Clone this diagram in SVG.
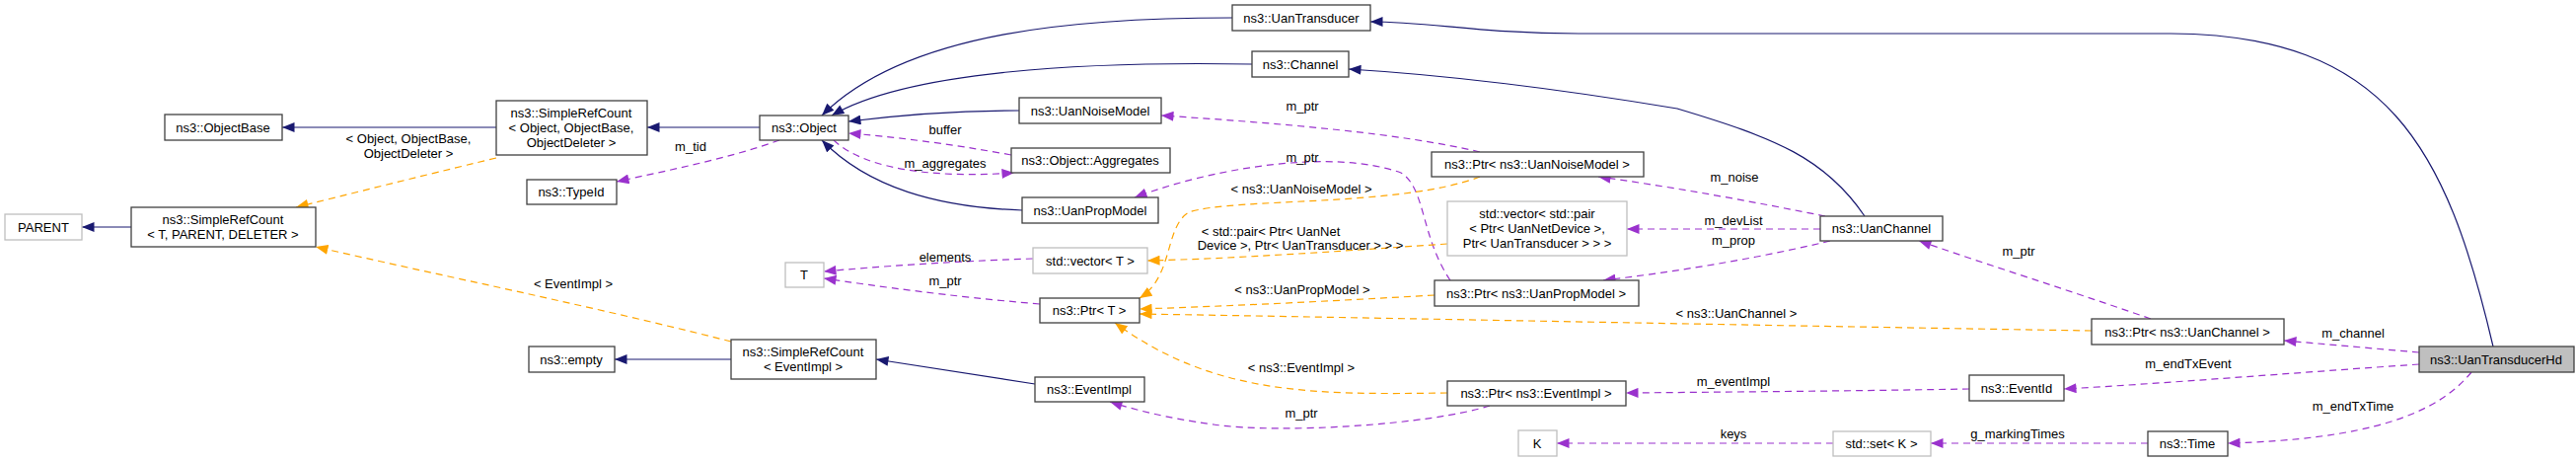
<svg xmlns="http://www.w3.org/2000/svg" width="2611" height="468" viewBox="0 0 2611 468">
<style>
text{font-family:"Liberation Sans",Arial,sans-serif;font-size:13px;fill:#000;text-anchor:middle}
.n rect{fill:#fff;stroke:#404040;stroke-width:1.3}
.u rect{fill:#fff;stroke:#bfbfbf;stroke-width:1.3}
.inh{fill:none;stroke:#191970;stroke-width:1.2;marker-end:url(#an)}
.use{fill:none;stroke:#9a32cd;stroke-width:1.2;stroke-dasharray:7,5;marker-end:url(#ap)}
.tpl{fill:none;stroke:#ffa500;stroke-width:1.2;stroke-dasharray:7,5;marker-end:url(#ao)}
</style>
<defs>
<marker id="an" viewBox="0 0 10 8" refX="10" refY="4" markerWidth="13" markerHeight="10" markerUnits="userSpaceOnUse" orient="auto"><path d="M0,0L10,4L0,8z" fill="#191970"/></marker>
<marker id="ap" viewBox="0 0 10 8" refX="10" refY="4" markerWidth="13" markerHeight="10" markerUnits="userSpaceOnUse" orient="auto"><path d="M0,0L10,4L0,8z" fill="#9a32cd"/></marker>
<marker id="ao" viewBox="0 0 10 8" refX="10" refY="4" markerWidth="13" markerHeight="10" markerUnits="userSpaceOnUse" orient="auto"><path d="M0,0L10,4L0,8z" fill="#ffa500"/></marker>
</defs>
<g id="connectors">
<path class="inh" d="M133,230L83,230"/>
<path class="inh" d="M503,129L286,129"/>
<path class="inh" d="M770,129L656,129"/>
<path class="inh" d="M1249,18C1100,18 920,30 833,117"/>
<path class="inh" d="M1269,65C1100,62 920,72 843,117"/>
<path class="inh" d="M1033,112C960,112 900,118 860,123"/>
<path class="inh" d="M1036,213C950,210 880,190 833,142"/>
<path class="inh" d="M2527,351C2480,150 2420,35 2200,34L1600,34C1500,34 1450,22 1389,22"/>
<path class="inh" d="M1890,219C1850,160 1800,140 1700,110C1550,85 1450,75 1367,70"/>
<path class="inh" d="M1049,389L888,364"/>
<path class="inh" d="M741,364L623,364"/>
<path class="use" d="M790,142C740,160 680,172 625,184"/>
<path class="use" d="M1025,157C960,145 900,138 860,135"/>
<path class="use" d="M845,142C880,175 960,180 1028,175"/>
<path class="use" d="M1500,154C1420,135 1300,125 1177,117"/>
<path class="use" d="M1470,284C1440,240 1445,190 1420,175C1350,150 1230,170 1150,200"/>
<path class="use" d="M1047,262C960,265 890,270 835,275"/>
<path class="use" d="M1054,308C960,300 890,290 835,282"/>
<path class="use" d="M1850,219C1780,205 1700,190 1620,179"/>
<path class="use" d="M1845,232L1649,232"/>
<path class="use" d="M1855,244C1780,262 1700,275 1625,284"/>
<path class="use" d="M2180,323C2100,295 2020,270 1945,244"/>
<path class="use" d="M2452,357L2315,345"/>
<path class="use" d="M2452,369C2320,378 2200,388 2092,394"/>
<path class="use" d="M1996,394C1880,396 1760,397 1648,398"/>
<path class="use" d="M1510,411C1450,430 1300,440 1230,430C1180,423 1150,415 1125,407"/>
<path class="use" d="M2505,377C2470,420 2400,445 2258,449"/>
<path class="use" d="M2177,449L1957,449"/>
<path class="use" d="M1858,449L1578,449"/>
<path class="tpl" d="M503,160C420,180 360,195 300,210"/>
<path class="tpl" d="M741,346C600,310 450,280 320,250"/>
<path class="tpl" d="M1467,247C1350,255 1250,262 1163,264"/>
<path class="tpl" d="M1500,179C1420,210 1250,200 1205,215C1180,230 1190,280 1155,302"/>
<path class="tpl" d="M1454,299C1350,305 1250,310 1155,313"/>
<path class="tpl" d="M2120,335C1800,330 1400,322 1155,318"/>
<path class="tpl" d="M1467,398C1330,400 1230,400 1130,327"/>
</g>
<g id="labels">
<text x="414" y="145">&lt; Object, ObjectBase,</text>
<text x="414" y="160">ObjectDeleter &gt;</text>
<text x="581" y="292">&lt; EventImpl &gt;</text>
<text x="700" y="153">m_tid</text>
<text x="958" y="136">buffer</text>
<text x="958" y="170">m_aggregates</text>
<text x="958" y="265">elements</text>
<text x="958" y="289">m_ptr</text>
<text x="1320" y="112">m_ptr</text>
<text x="1320" y="164">m_ptr</text>
<text x="1319" y="196">&lt; ns3::UanNoiseModel &gt;</text>
<text x="1288" y="239">&lt; std::pair&lt; Ptr&lt; UanNet</text>
<text x="1318" y="253">Device &gt;, Ptr&lt; UanTransducer &gt; &gt; &gt;</text>
<text x="1320" y="298">&lt; ns3::UanPropModel &gt;</text>
<text x="1319" y="377">&lt; ns3::EventImpl &gt;</text>
<text x="1319" y="423">m_ptr</text>
<text x="1758" y="184">m_noise</text>
<text x="1757" y="228">m_devList</text>
<text x="1757" y="248">m_prop</text>
<text x="1760" y="322">&lt; ns3::UanChannel &gt;</text>
<text x="2046" y="259">m_ptr</text>
<text x="2385" y="342">m_channel</text>
<text x="2218" y="373">m_endTxEvent</text>
<text x="1757" y="391">m_eventImpl</text>
<text x="2385" y="416">m_endTxTime</text>
<text x="1757" y="444">keys</text>
<text x="2045" y="444">g_markingTimes</text>
</g>
<g id="PARENT" class="u"><rect x="5" y="217" width="78" height="26"/><text x="44" y="235">PARENT</text></g>
<g id="SRC_T" class="n"><rect x="133" y="210" width="187" height="40"/><text x="226" y="227">ns3::SimpleRefCount</text><text x="226" y="242">&lt; T, PARENT, DELETER &gt;</text></g>
<g id="ObjectBase" class="n"><rect x="167" y="116" width="119" height="26"/><text x="226" y="134">ns3::ObjectBase</text></g>
<g id="SRC_Object" class="n"><rect x="503" y="102" width="153" height="55"/><text x="579" y="119">ns3::SimpleRefCount</text><text x="579" y="134">&lt; Object, ObjectBase,</text><text x="579" y="149">ObjectDeleter &gt;</text></g>
<g id="Object" class="n"><rect x="770" y="117" width="90" height="25"/><text x="815" y="134">ns3::Object</text></g>
<g id="TypeId" class="n"><rect x="534" y="182" width="91" height="25"/><text x="579" y="199">ns3::TypeId</text></g>
<g id="empty" class="n"><rect x="536" y="351" width="87" height="26"/><text x="579" y="369">ns3::empty</text></g>
<g id="SRC_EventImpl" class="n"><rect x="741" y="344" width="147" height="40"/><text x="814" y="361">ns3::SimpleRefCount</text><text x="814" y="376">&lt; EventImpl &gt;</text></g>
<g id="T" class="u"><rect x="796" y="266" width="39" height="25"/><text x="815" y="283">T</text></g>
<g id="UanTransducer" class="n"><rect x="1249" y="5" width="140" height="26"/><text x="1319" y="23">ns3::UanTransducer</text></g>
<g id="Channel" class="n"><rect x="1269" y="52" width="98" height="26"/><text x="1318" y="70">ns3::Channel</text></g>
<g id="UanNoiseModel" class="n"><rect x="1033" y="99" width="144" height="26"/><text x="1105" y="117">ns3::UanNoiseModel</text></g>
<g id="Aggregates" class="n"><rect x="1025" y="150" width="161" height="25"/><text x="1105" y="167">ns3::Object::Aggregates</text></g>
<g id="UanPropModel" class="n"><rect x="1036" y="200" width="138" height="26"/><text x="1105" y="218">ns3::UanPropModel</text></g>
<g id="vectorT" class="u"><rect x="1047" y="251" width="116" height="26"/><text x="1105" y="269">std::vector&lt; T &gt;</text></g>
<g id="PtrT" class="n"><rect x="1054" y="302" width="101" height="25"/><text x="1104" y="319">ns3::Ptr&lt; T &gt;</text></g>
<g id="EventImpl" class="n"><rect x="1049" y="382" width="111" height="25"/><text x="1104" y="399">ns3::EventImpl</text></g>
<g id="PtrUanNoiseModel" class="n"><rect x="1451" y="154" width="215" height="25"/><text x="1558" y="171">ns3::Ptr&lt; ns3::UanNoiseModel &gt;</text></g>
<g id="vectorPair" class="u"><rect x="1467" y="204" width="182" height="55"/><text x="1558" y="221">std::vector&lt; std::pair</text><text x="1558" y="236">&lt; Ptr&lt; UanNetDevice &gt;,</text><text x="1558" y="251">Ptr&lt; UanTransducer &gt; &gt; &gt;</text></g>
<g id="PtrUanPropModel" class="n"><rect x="1454" y="284" width="207" height="26"/><text x="1557" y="302">ns3::Ptr&lt; ns3::UanPropModel &gt;</text></g>
<g id="PtrEventImpl" class="n"><rect x="1467" y="386" width="181" height="25"/><text x="1557" y="403">ns3::Ptr&lt; ns3::EventImpl &gt;</text></g>
<g id="K" class="u"><rect x="1539" y="436" width="39" height="26"/><text x="1558" y="454">K</text></g>
<g id="UanChannel" class="n"><rect x="1845" y="219" width="124" height="25"/><text x="1907" y="236">ns3::UanChannel</text></g>
<g id="setK" class="u"><rect x="1858" y="437" width="99" height="25"/><text x="1907" y="454">std::set&lt; K &gt;</text></g>
<g id="EventId" class="n"><rect x="1996" y="380" width="96" height="26"/><text x="2044" y="398">ns3::EventId</text></g>
<g id="PtrUanChannel" class="n"><rect x="2120" y="323" width="195" height="26"/><text x="2217" y="341">ns3::Ptr&lt; ns3::UanChannel &gt;</text></g>
<g id="Time" class="n"><rect x="2177" y="437" width="81" height="25"/><text x="2217" y="454">ns3::Time</text></g>
<g id="UanTransducerHd" class="n"><rect x="2452" y="351" width="157" height="26" style="fill:#bfbfbf"/><text x="2530" y="369">ns3::UanTransducerHd</text></g>
</svg>
